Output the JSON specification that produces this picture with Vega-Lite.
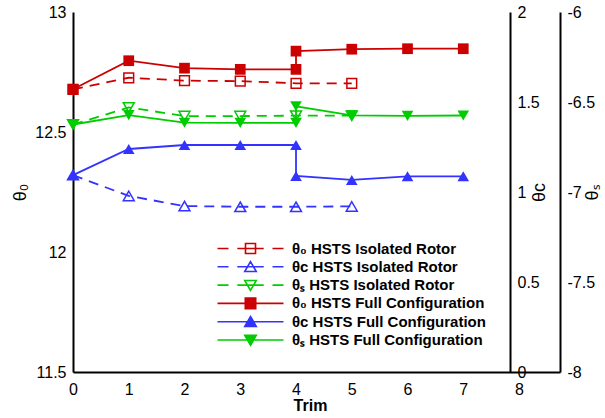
{
  "$schema": "https://vega.github.io/schema/vega-lite/v6.json",
  "width": 487,
  "height": 360,
  "autosize": "none",
  "padding": {"left": 73, "top": 12, "right": 45, "bottom": 46},
  "background": "white",
  "config": {
    "view": {"stroke": null},
    "axis": {
      "grid": false,
      "ticks": false,
      "domainColor": "black",
      "domainWidth": 2,
      "labelColor": "black",
      "labelFont": "Liberation Sans",
      "labelFontSize": 16,
      "labelFlush": false,
      "labelOverlap": false,
      "titleColor": "black",
      "titleFont": "Liberation Sans",
      "titleFontWeight": "normal",
      "titleFontSize": 18
    }
  },
  "data": {
    "values": [
      {"x": 0, "v": 12.678, "p": "t0", "s": "θ₀ HSTS Isolated Rotor", "i": 0},
      {"x": 1, "v": 12.726, "p": "t0", "s": "θ₀ HSTS Isolated Rotor", "i": 1},
      {"x": 2, "v": 12.714, "p": "t0", "s": "θ₀ HSTS Isolated Rotor", "i": 2},
      {"x": 3, "v": 12.712, "p": "t0", "s": "θ₀ HSTS Isolated Rotor", "i": 3},
      {"x": 4, "v": 12.703, "p": "t0", "s": "θ₀ HSTS Isolated Rotor", "i": 4},
      {"x": 5, "v": 12.703, "p": "t0", "s": "θ₀ HSTS Isolated Rotor", "i": 5},
      {"x": 0, "v": 1.094, "p": "tc", "s": "θᴄ HSTS Isolated Rotor", "i": 0},
      {"x": 1, "v": 0.978, "p": "tc", "s": "θᴄ HSTS Isolated Rotor", "i": 1},
      {"x": 2, "v": 0.922, "p": "tc", "s": "θᴄ HSTS Isolated Rotor", "i": 2},
      {"x": 3, "v": 0.918, "p": "tc", "s": "θᴄ HSTS Isolated Rotor", "i": 3},
      {"x": 4, "v": 0.918, "p": "tc", "s": "θᴄ HSTS Isolated Rotor", "i": 4},
      {"x": 5, "v": 0.92, "p": "tc", "s": "θᴄ HSTS Isolated Rotor", "i": 5},
      {"x": 0, "v": -6.625, "p": "ts", "s": "θₛ HSTS Isolated Rotor", "i": 0},
      {"x": 1, "v": -6.53, "p": "ts", "s": "θₛ HSTS Isolated Rotor", "i": 1},
      {"x": 2, "v": -6.578, "p": "ts", "s": "θₛ HSTS Isolated Rotor", "i": 2},
      {"x": 3, "v": -6.578, "p": "ts", "s": "θₛ HSTS Isolated Rotor", "i": 3},
      {"x": 4, "v": -6.576, "p": "ts", "s": "θₛ HSTS Isolated Rotor", "i": 4},
      {"x": 5, "v": -6.576, "p": "ts", "s": "θₛ HSTS Isolated Rotor", "i": 5},
      {"x": 0, "v": 12.678, "p": "t0", "s": "θ₀ HSTS Full Configuration", "i": 0},
      {"x": 1, "v": 12.797, "p": "t0", "s": "θ₀ HSTS Full Configuration", "i": 1},
      {"x": 2, "v": 12.766, "p": "t0", "s": "θ₀ HSTS Full Configuration", "i": 2},
      {"x": 3, "v": 12.761, "p": "t0", "s": "θ₀ HSTS Full Configuration", "i": 3},
      {"x": 4, "v": 12.761, "p": "t0", "s": "θ₀ HSTS Full Configuration", "i": 4},
      {"x": 4, "v": 12.837, "p": "t0", "s": "θ₀ HSTS Full Configuration", "i": 5},
      {"x": 5, "v": 12.845, "p": "t0", "s": "θ₀ HSTS Full Configuration", "i": 6},
      {"x": 6, "v": 12.847, "p": "t0", "s": "θ₀ HSTS Full Configuration", "i": 7},
      {"x": 7, "v": 12.847, "p": "t0", "s": "θ₀ HSTS Full Configuration", "i": 8},
      {"x": 0, "v": 1.094, "p": "tc", "s": "θᴄ HSTS Full Configuration", "i": 0},
      {"x": 1, "v": 1.239, "p": "tc", "s": "θᴄ HSTS Full Configuration", "i": 1},
      {"x": 2, "v": 1.261, "p": "tc", "s": "θᴄ HSTS Full Configuration", "i": 2},
      {"x": 3, "v": 1.261, "p": "tc", "s": "θᴄ HSTS Full Configuration", "i": 3},
      {"x": 4, "v": 1.261, "p": "tc", "s": "θᴄ HSTS Full Configuration", "i": 4},
      {"x": 4, "v": 1.089, "p": "tc", "s": "θᴄ HSTS Full Configuration", "i": 5},
      {"x": 5, "v": 1.067, "p": "tc", "s": "θᴄ HSTS Full Configuration", "i": 6},
      {"x": 6, "v": 1.087, "p": "tc", "s": "θᴄ HSTS Full Configuration", "i": 7},
      {"x": 7, "v": 1.087, "p": "tc", "s": "θᴄ HSTS Full Configuration", "i": 8},
      {"x": 0, "v": -6.625, "p": "ts", "s": "θₛ HSTS Full Configuration", "i": 0},
      {"x": 1, "v": -6.573, "p": "ts", "s": "θₛ HSTS Full Configuration", "i": 1},
      {"x": 2, "v": -6.615, "p": "ts", "s": "θₛ HSTS Full Configuration", "i": 2},
      {"x": 3, "v": -6.616, "p": "ts", "s": "θₛ HSTS Full Configuration", "i": 3},
      {"x": 4, "v": -6.616, "p": "ts", "s": "θₛ HSTS Full Configuration", "i": 4},
      {"x": 4, "v": -6.524, "p": "ts", "s": "θₛ HSTS Full Configuration", "i": 5},
      {"x": 5, "v": -6.574, "p": "ts", "s": "θₛ HSTS Full Configuration", "i": 6},
      {"x": 6, "v": -6.577, "p": "ts", "s": "θₛ HSTS Full Configuration", "i": 7},
      {"x": 7, "v": -6.575, "p": "ts", "s": "θₛ HSTS Full Configuration", "i": 8}
    ]
  },
  "encoding": {
    "x": {
      "field": "x",
      "type": "quantitative",
      "scale": {"domain": [0, 8.735], "nice": false, "zero": false},
      "axis": {
        "values": [0, 1, 2, 3, 4, 5, 6, 7, 8],
        "format": "d",
        "labelPadding": 9,
        "title": "Trim",
        "titleFontWeight": "bold",
        "titleFontSize": 16,
        "titleX": 237,
        "titleY": 33,
        "titleAlign": "center",
        "titleBaseline": "middle"
      }
    }
  },
  "layer": [
    {
      "transform": [{"filter": "datum.p === 't0'"}],
      "encoding": {
        "y": {
          "field": "v",
          "type": "quantitative",
          "scale": {"domain": [11.5, 13], "nice": false, "zero": false},
          "axis": {
            "orient": "left",
            "values": [11.5, 12, 12.5, 13],
            "labelExpr": "'' + datum.value",
            "labelPadding": 7,
            "title": "θ₀",
            "titleAngle": 270,
            "titleX": -53,
            "titleY": 180,
            "titleAlign": "center",
            "titleBaseline": "middle"
          }
        }
      },
      "layer": [
        {
          "transform": [{"filter": "indexof(datum.s, 'Isolated') >= 0"}],
          "mark": {"type": "line", "strokeWidth": 1.8, "color": "#cc0000", "strokeDash": [10, 7]},
          "encoding": {"order": {"field": "i", "type": "quantitative"}}
        },
        {
          "transform": [{"filter": "indexof(datum.s, 'Full') >= 0"}],
          "mark": {"type": "line", "strokeWidth": 1.8, "color": "#cc0000"},
          "encoding": {"order": {"field": "i", "type": "quantitative"}}
        },
        {
          "transform": [{"filter": "indexof(datum.s, 'Isolated') >= 0"}],
          "mark": {"type": "point", "shape": "square", "filled": false, "color": "#cc0000", "size": 95, "strokeWidth": 1.5, "opacity": 1}
        },
        {
          "transform": [{"filter": "indexof(datum.s, 'Full') >= 0"}],
          "mark": {"type": "point", "shape": "square", "filled": true, "color": "#cc0000", "size": 115, "strokeWidth": 1, "opacity": 1}
        },
        {
          "mark": {"type": "point", "opacity": 1, "fillOpacity": 0, "strokeOpacity": 0, "size": 1},
          "encoding": {
            "color": {
              "field": "s", "type": "nominal",
              "scale": {"domain": ["θ₀ HSTS Isolated Rotor", "θᴄ HSTS Isolated Rotor", "θₛ HSTS Isolated Rotor", "θ₀ HSTS Full Configuration", "θᴄ HSTS Full Configuration", "θₛ HSTS Full Configuration"], "range": ["#cc0000", "#3333ff", "#00cc00", "#cc0000", "#3333ff", "#00cc00"]},
              "legend": {"title": null, "orient": "none", "legendX": 170, "legendY": 229, "symbolSize": 121, "symbolStrokeWidth": 1.6, "symbolOpacity": 1, "labelFont": "Liberation Sans", "labelFontWeight": "bold", "labelFontSize": 15, "labelColor": "black", "labelOffset": 34, "rowPadding": 1.3, "padding": 0, "labelLimit": 400}
            },
            "shape": {
              "field": "s", "type": "nominal",
              "scale": {"domain": ["θ₀ HSTS Isolated Rotor", "θᴄ HSTS Isolated Rotor", "θₛ HSTS Isolated Rotor", "θ₀ HSTS Full Configuration", "θᴄ HSTS Full Configuration", "θₛ HSTS Full Configuration"], "range": ["M-6,0L-4,0M-2.4,0L2.4,0M4,0L6,0M-0.91,-0.91L0.91,-0.91L0.91,0.91L-0.91,0.91Z", "M-6,0L-4,0M-2.4,0L2.4,0M4,0L6,0M0,-0.95L1.05,0.85L-1.05,0.85Z", "M-6,0L-4,0M-2.4,0L2.4,0M4,0L6,0M0,0.95L1.05,-0.85L-1.05,-0.85Z", "M-6,0L6,0M-0.95,-0.95L0.95,-0.95L0.95,0.95L-0.95,0.95Z", "M-6,0L6,0M0,-0.95L1.05,0.85L-1.05,0.85Z", "M-6,0L6,0M0,0.95L1.05,-0.85L-1.05,-0.85Z"]},
              "legend": {"title": null, "orient": "none", "legendX": 170, "legendY": 229, "symbolSize": 121, "symbolStrokeWidth": 1.6, "symbolOpacity": 1, "labelFont": "Liberation Sans", "labelFontWeight": "bold", "labelFontSize": 15, "labelColor": "black", "labelOffset": 34, "rowPadding": 1.3, "padding": 0, "labelLimit": 400}
            },
            "fill": {
              "field": "s", "type": "nominal",
              "scale": {"domain": ["θ₀ HSTS Isolated Rotor", "θᴄ HSTS Isolated Rotor", "θₛ HSTS Isolated Rotor", "θ₀ HSTS Full Configuration", "θᴄ HSTS Full Configuration", "θₛ HSTS Full Configuration"], "range": ["transparent", "transparent", "transparent", "#cc0000", "#3333ff", "#00cc00"]},
              "legend": {"title": null, "orient": "none", "legendX": 170, "legendY": 229, "symbolSize": 121, "symbolStrokeWidth": 1.6, "symbolOpacity": 1, "labelFont": "Liberation Sans", "labelFontWeight": "bold", "labelFontSize": 15, "labelColor": "black", "labelOffset": 34, "rowPadding": 1.3, "padding": 0, "labelLimit": 400}
            }
          }
        }
      ]
    },
    {
      "transform": [{"filter": "datum.p === 'tc'"}],
      "encoding": {
        "y": {
          "field": "v",
          "type": "quantitative",
          "scale": {"domain": [0, 2], "nice": false, "zero": false},
          "axis": {
            "orient": "right",
            "offset": -50,
            "values": [0, 0.5, 1, 1.5, 2],
            "labelExpr": "'' + datum.value",
            "labelPadding": 7,
            "title": "θᴄ",
            "titleAngle": 270,
            "titleX": 29,
            "titleY": 180,
            "titleAlign": "center",
            "titleBaseline": "middle"
          }
        }
      },
      "layer": [
        {
          "transform": [{"filter": "indexof(datum.s, 'Isolated') >= 0"}],
          "mark": {"type": "line", "strokeWidth": 1.8, "color": "#3333ff", "strokeDash": [10, 7]},
          "encoding": {"order": {"field": "i", "type": "quantitative"}}
        },
        {
          "transform": [{"filter": "indexof(datum.s, 'Full') >= 0"}],
          "mark": {"type": "line", "strokeWidth": 1.8, "color": "#3333ff"},
          "encoding": {"order": {"field": "i", "type": "quantitative"}}
        },
        {
          "transform": [{"filter": "indexof(datum.s, 'Isolated') >= 0"}],
          "mark": {"type": "point", "shape": "triangle-up", "filled": false, "color": "#3333ff", "size": 120, "strokeWidth": 1.5, "opacity": 1}
        },
        {
          "transform": [{"filter": "indexof(datum.s, 'Full') >= 0"}],
          "mark": {"type": "point", "shape": "triangle-up", "filled": true, "color": "#3333ff", "size": 135, "strokeWidth": 1, "opacity": 1}
        }
      ]
    },
    {
      "transform": [{"filter": "datum.p === 'ts'"}],
      "encoding": {
        "y": {
          "field": "v",
          "type": "quantitative",
          "scale": {"domain": [-8, -6], "nice": false, "zero": false},
          "axis": {
            "orient": "right",
            "offset": 0,
            "values": [-8, -7.5, -7, -6.5, -6],
            "labelExpr": "'' + datum.value",
            "labelPadding": 7,
            "title": "θₛ",
            "titleAngle": 270,
            "titleX": 32,
            "titleY": 180,
            "titleAlign": "center",
            "titleBaseline": "middle"
          }
        }
      },
      "layer": [
        {
          "transform": [{"filter": "indexof(datum.s, 'Isolated') >= 0"}],
          "mark": {"type": "line", "strokeWidth": 1.8, "color": "#00cc00", "strokeDash": [10, 7]},
          "encoding": {"order": {"field": "i", "type": "quantitative"}}
        },
        {
          "transform": [{"filter": "indexof(datum.s, 'Full') >= 0"}],
          "mark": {"type": "line", "strokeWidth": 1.8, "color": "#00cc00"},
          "encoding": {"order": {"field": "i", "type": "quantitative"}}
        },
        {
          "transform": [{"filter": "indexof(datum.s, 'Isolated') >= 0"}],
          "mark": {"type": "point", "shape": "triangle-down", "filled": false, "color": "#00cc00", "size": 120, "strokeWidth": 1.5, "opacity": 1}
        },
        {
          "transform": [{"filter": "indexof(datum.s, 'Full') >= 0"}],
          "mark": {"type": "point", "shape": "triangle-down", "filled": true, "color": "#00cc00", "size": 135, "strokeWidth": 1, "opacity": 1}
        }
      ]
    }
  ],
  "resolve": {"scale": {"y": "independent"}, "axis": {"y": "independent"}}
}
